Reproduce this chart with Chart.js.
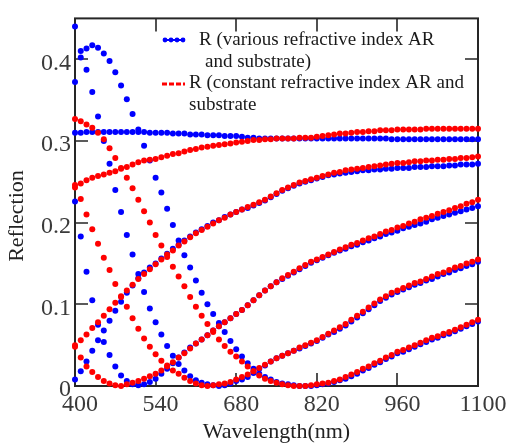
<!DOCTYPE html>
<html>
<head>
<meta charset="utf-8">
<script src="https://cdn.jsdelivr.net/npm/chart.js@4.4.1/dist/chart.umd.min.js"></script>
<style>
  html, body { margin: 0; padding: 0; background: #fff; }
  #wrap { width: 512px; height: 446px; }
</style>
</head>
<body>
<div id="wrap"><canvas id="reflChart" width="512" height="446"></canvas></div>
<script>
// wavelength grid (nm)
const wavelengths = [
  400, 410, 420, 430, 440, 450, 460, 470, 480, 490,
  500, 510, 520, 530, 540, 550, 560, 570, 580, 590,
  600, 610, 620, 630, 640, 650, 660, 670, 680, 690,
  700, 710, 720, 730, 740, 750, 760, 770, 780, 790,
  800, 810, 820, 830, 840, 850, 860, 870, 880, 890,
  900, 910, 920, 930, 940, 950, 960, 970, 980, 990,
  1000, 1010, 1020, 1030, 1040, 1050, 1060, 1070, 1080, 1090,
  1100
];

const xTicks = [400, 540, 680, 820, 960, 1100];
const yTicks = [0, 0.1, 0.2, 0.3, 0.4];

// R with various (dispersive) refractive index, AR + substrate
const variousR1 = [
  0.310, 0.310, 0.311, 0.311, 0.311, 0.311, 0.311, 0.311, 0.311, 0.311,
  0.311, 0.311, 0.311, 0.310, 0.310, 0.310, 0.310, 0.309, 0.309, 0.309,
  0.308, 0.308, 0.308, 0.307, 0.307, 0.307, 0.306, 0.306, 0.306, 0.305,
  0.304, 0.304, 0.303, 0.303, 0.303, 0.303, 0.303, 0.303, 0.303, 0.303,
  0.303, 0.303, 0.303, 0.303, 0.303, 0.303, 0.303, 0.303, 0.303, 0.303,
  0.303, 0.303, 0.303, 0.303, 0.303, 0.302, 0.302, 0.302, 0.302, 0.302,
  0.302, 0.302, 0.302, 0.302, 0.302, 0.302, 0.302, 0.302, 0.302, 0.302,
  0.302
];
const variousR2 = [
  0.008, 0.018, 0.030, 0.043, 0.056, 0.068, 0.080, 0.092, 0.103, 0.114,
  0.123, 0.132, 0.139, 0.145, 0.150, 0.156, 0.162, 0.168, 0.173, 0.178,
  0.183, 0.188, 0.192, 0.196, 0.200, 0.203, 0.207, 0.210, 0.213, 0.216,
  0.218, 0.221, 0.224, 0.227, 0.231, 0.235, 0.239, 0.242, 0.245, 0.248,
  0.250, 0.252, 0.254, 0.256, 0.258, 0.259, 0.260, 0.261, 0.262, 0.263,
  0.264, 0.264, 0.265, 0.265, 0.266, 0.266, 0.267, 0.267, 0.267, 0.268,
  0.268, 0.268, 0.269, 0.269, 0.269, 0.270, 0.270, 0.271, 0.271, 0.271,
  0.272
];
const variousR3 = [
  0.226, 0.183, 0.140, 0.105, 0.075, 0.054, 0.038, 0.024, 0.013, 0.006,
  0.002, 0.001, 0.002, 0.005, 0.009, 0.015, 0.021, 0.028, 0.035, 0.041,
  0.047, 0.052, 0.057, 0.062, 0.068, 0.073, 0.078, 0.083, 0.088, 0.093,
  0.099, 0.105, 0.111, 0.117, 0.122, 0.127, 0.131, 0.135, 0.139, 0.143,
  0.147, 0.151, 0.154, 0.157, 0.160, 0.163, 0.166, 0.168, 0.171, 0.173,
  0.176, 0.178, 0.181, 0.183, 0.186, 0.188, 0.190, 0.193, 0.195, 0.197,
  0.199, 0.201, 0.204, 0.206, 0.208, 0.210, 0.212, 0.214, 0.216, 0.218,
  0.220
];
const variousR4 = [
  0.440, 0.410, 0.387, 0.360, 0.330, 0.300, 0.272, 0.240, 0.213, 0.185,
  0.161, 0.137, 0.115, 0.095, 0.078, 0.063, 0.049, 0.037, 0.027, 0.019,
  0.012, 0.007, 0.004, 0.002, 0.001, 0.000, 0.001, 0.003, 0.006, 0.008,
  0.011, 0.016, 0.021, 0.025, 0.030, 0.034, 0.037, 0.040, 0.043, 0.046,
  0.049, 0.052, 0.055, 0.059, 0.063, 0.066, 0.070, 0.074, 0.079, 0.084,
  0.089, 0.094, 0.099, 0.104, 0.108, 0.112, 0.115, 0.118, 0.121, 0.124,
  0.126, 0.129, 0.131, 0.134, 0.137, 0.139, 0.142, 0.144, 0.147, 0.149,
  0.152
];
const variousR5 = [
  0.372, 0.402, 0.413, 0.417, 0.414, 0.407, 0.398, 0.384, 0.368, 0.351,
  0.333, 0.314, 0.294, 0.276, 0.255, 0.237, 0.217, 0.197, 0.178, 0.160,
  0.145, 0.129, 0.114, 0.100, 0.088, 0.077, 0.066, 0.055, 0.045, 0.036,
  0.028, 0.021, 0.015, 0.011, 0.008, 0.005, 0.003, 0.002, 0.001, 0.000,
  0.000, 0.000, 0.001, 0.002, 0.003, 0.005, 0.007, 0.009, 0.012, 0.015,
  0.019, 0.022, 0.026, 0.029, 0.033, 0.036, 0.040, 0.042, 0.045, 0.048,
  0.051, 0.054, 0.057, 0.059, 0.062, 0.064, 0.067, 0.070, 0.073, 0.076,
  0.079
];

// R with constant refractive index, AR + substrate
const constantR1 = [
  0.243, 0.248, 0.252, 0.255, 0.257, 0.259, 0.261, 0.263, 0.266, 0.268,
  0.271, 0.274, 0.276, 0.277, 0.278, 0.280, 0.282, 0.284, 0.285, 0.287,
  0.289, 0.290, 0.292, 0.293, 0.294, 0.295, 0.296, 0.297, 0.298, 0.299,
  0.300, 0.301, 0.301, 0.302, 0.302, 0.303, 0.303, 0.303, 0.303, 0.304,
  0.304, 0.304, 0.305, 0.306, 0.307, 0.308, 0.309, 0.309, 0.310, 0.311,
  0.311, 0.312, 0.312, 0.313, 0.313, 0.313, 0.314, 0.314, 0.314, 0.314,
  0.314, 0.315, 0.315, 0.315, 0.315, 0.315, 0.315, 0.315, 0.315, 0.315,
  0.315
];
const constantR2 = [
  0.048, 0.056, 0.063, 0.071, 0.078, 0.086, 0.094, 0.102, 0.109, 0.117,
  0.124, 0.131, 0.137, 0.143, 0.149, 0.155, 0.161, 0.166, 0.172, 0.177,
  0.182, 0.187, 0.191, 0.195, 0.199, 0.203, 0.206, 0.210, 0.213, 0.216,
  0.219, 0.222, 0.225, 0.228, 0.232, 0.236, 0.240, 0.243, 0.246, 0.249,
  0.251, 0.253, 0.255, 0.257, 0.259, 0.261, 0.262, 0.264, 0.265, 0.266,
  0.267, 0.268, 0.269, 0.270, 0.271, 0.272, 0.273, 0.273, 0.274, 0.275,
  0.275, 0.276, 0.276, 0.277, 0.277, 0.278, 0.278, 0.279, 0.279, 0.280,
  0.281
];
const constantR3 = [
  0.050, 0.035, 0.024, 0.017, 0.011, 0.006, 0.003, 0.001, 0.000, 0.002,
  0.004, 0.006, 0.009, 0.012, 0.015, 0.019, 0.024, 0.029, 0.035, 0.040,
  0.046, 0.052, 0.057, 0.062, 0.068, 0.073, 0.078, 0.083, 0.088, 0.093,
  0.099, 0.105, 0.111, 0.117, 0.122, 0.127, 0.132, 0.136, 0.140, 0.144,
  0.148, 0.152, 0.155, 0.158, 0.161, 0.164, 0.167, 0.170, 0.173, 0.175,
  0.178, 0.181, 0.183, 0.186, 0.189, 0.191, 0.194, 0.196, 0.199, 0.201,
  0.204, 0.206, 0.208, 0.211, 0.213, 0.215, 0.218, 0.220, 0.223, 0.225,
  0.228
];
const constantR4 = [
  0.246, 0.229, 0.210, 0.192, 0.174, 0.157, 0.142, 0.125, 0.110, 0.097,
  0.083, 0.070, 0.058, 0.048, 0.039, 0.031, 0.025, 0.019, 0.015, 0.010,
  0.006, 0.003, 0.001, 0.000, 0.001, 0.002, 0.003, 0.005, 0.008, 0.011,
  0.014, 0.018, 0.022, 0.026, 0.030, 0.034, 0.037, 0.040, 0.043, 0.047,
  0.050, 0.053, 0.056, 0.060, 0.064, 0.068, 0.072, 0.076, 0.081, 0.086,
  0.091, 0.096, 0.101, 0.106, 0.110, 0.114, 0.117, 0.120, 0.123, 0.126,
  0.128, 0.131, 0.134, 0.137, 0.139, 0.142, 0.145, 0.147, 0.150, 0.152,
  0.155
];
const constantR5 = [
  0.327, 0.324, 0.320, 0.316, 0.310, 0.302, 0.291, 0.279, 0.267, 0.255,
  0.242, 0.228, 0.214, 0.200, 0.185, 0.172, 0.158, 0.146, 0.134, 0.122,
  0.109, 0.097, 0.086, 0.076, 0.066, 0.057, 0.049, 0.042, 0.036, 0.030,
  0.024, 0.018, 0.013, 0.009, 0.006, 0.004, 0.002, 0.001, 0.000, 0.000,
  0.000, 0.001, 0.002, 0.003, 0.004, 0.006, 0.008, 0.011, 0.014, 0.017,
  0.021, 0.024, 0.028, 0.031, 0.035, 0.038, 0.042, 0.044, 0.047, 0.050,
  0.053, 0.056, 0.059, 0.061, 0.064, 0.066, 0.069, 0.072, 0.075, 0.078,
  0.081
];

const BLUE = '#0000ff';
const RED = '#ff0000';
const SERIF = '"Liberation Serif", "Times New Roman", serif';
const TICK = 13;

function dotSeries(label, values, color) {
  return {
    label: label,
    data: wavelengths.map((w, i) => ({ x: w, y: values[i] })),
    showLine: false,
    pointStyle: 'circle',
    pointRadius: 3,
    pointHoverRadius: 3,
    backgroundColor: color,
    borderWidth: 0,
    clip: false
  };
}

// frame with inward ticks on all four sides, legend and axis titles
const framePlugin = {
  id: 'frame',
  beforeDatasetsDraw(chart) {
    const { ctx, chartArea: a, scales: { x, y } } = chart;
    ctx.save();
    ctx.strokeStyle = '#262626';
    ctx.lineWidth = 2;
    ctx.strokeRect(a.left, a.top, a.right - a.left, a.bottom - a.top);
    ctx.lineWidth = 1.6;
    ctx.beginPath();
    xTicks.slice(1, -1).forEach(v => {
      const px = Math.round(x.getPixelForValue(v));
      ctx.moveTo(px, a.bottom); ctx.lineTo(px, a.bottom - TICK);
      ctx.moveTo(px, a.top); ctx.lineTo(px, a.top + TICK);
    });
    yTicks.slice(1).forEach(v => {
      const py = Math.round(y.getPixelForValue(v));
      ctx.moveTo(a.left, py); ctx.lineTo(a.left + TICK, py);
      ctx.moveTo(a.right, py); ctx.lineTo(a.right - TICK, py);
    });
    ctx.stroke();
    ctx.restore();
  },
  afterDraw(chart) {
    const { ctx, chartArea: a } = chart;
    ctx.save();

    // legend samples
    ctx.fillStyle = BLUE;
    ctx.strokeStyle = BLUE;
    ctx.lineWidth = 2;
    ctx.beginPath(); ctx.moveTo(163, 40); ctx.lineTo(185, 40); ctx.stroke();
    [165, 171, 177, 183].forEach(px => {
      ctx.beginPath(); ctx.arc(px, 40, 2.4, 0, Math.PI * 2); ctx.fill();
    });
    ctx.strokeStyle = RED;
    ctx.lineWidth = 3;
    ctx.setLineDash([5, 2]);
    ctx.beginPath(); ctx.moveTo(162, 84); ctx.lineTo(185, 84); ctx.stroke();
    ctx.setLineDash([]);

    // legend text
    ctx.fillStyle = '#1a1a1a';
    ctx.font = '19px ' + SERIF;
    ctx.textBaseline = 'middle';
    ctx.textAlign = 'left';
    ctx.fillText('R (various refractive index AR', 199, 40);
    ctx.fillText('and substrate)', 205, 62);
    ctx.fillText('R (constant refractive index AR and', 189, 83);
    ctx.fillText('substrate', 189, 105);

    // axis titles
    ctx.font = '22px ' + SERIF;
    ctx.fillStyle = '#222';
    ctx.textAlign = 'center';
    ctx.fillText('Wavelength(nm)', (a.left + a.right) / 2, 432);
    ctx.translate(17, 216);
    ctx.rotate(-Math.PI / 2);
    ctx.fillText('Reflection', 0, 0);
    ctx.restore();
  }
};

const datasets = [
  dotSeries('R (constant refractive index AR and substrate)', constantR1, RED),
  dotSeries('constant 2', constantR2, RED),
  dotSeries('constant 3', constantR3, RED),
  dotSeries('constant 4', constantR4, RED),
  dotSeries('constant 5', constantR5, RED),
  dotSeries('R (various refractive index AR and substrate)', variousR1, BLUE),
  dotSeries('various 2', variousR2, BLUE),
  dotSeries('various 3', variousR3, BLUE),
  dotSeries('various 4', variousR4, BLUE),
  dotSeries('various 5', variousR5, BLUE)
];

new Chart(document.getElementById('reflChart'), {
  type: 'scatter',
  data: { datasets: datasets },
  plugins: [framePlugin],
  options: {
    responsive: false,
    animation: false,
    events: [],
    layout: { padding: { top: 10, right: 34, left: 0, bottom: 0 } },
    plugins: { legend: { display: false }, tooltip: { enabled: false } },
    scales: {
      x: {
        type: 'linear',
        min: 400,
        max: 1100,
        afterBuildTicks: s => { s.ticks = xTicks.map(v => ({ value: v })); },
        afterFit: s => { s.height = 60; },
        grid: { display: false, drawTicks: false },
        border: { display: false },
        ticks: {
          font: { family: SERIF, size: 24 },
          color: '#3a3a3a',
          padding: 4,
          labelOffset: 5,
          maxRotation: 0,
          autoSkip: false,
          callback: v => String(v)
        }
      },
      y: {
        type: 'linear',
        min: 0,
        max: 0.45,
        afterBuildTicks: s => { s.ticks = yTicks.map(v => ({ value: v })); },
        afterFit: s => { s.width = 75; },
        grid: { display: false, drawTicks: false },
        border: { display: false },
        ticks: {
          font: { family: SERIF, size: 24 },
          color: '#3a3a3a',
          padding: 4,
          labelOffset: 4,
          autoSkip: false,
          callback: v => v === 0 ? '0' : v.toFixed(1)
        }
      }
    }
  }
});
</script>
</body>
</html>
